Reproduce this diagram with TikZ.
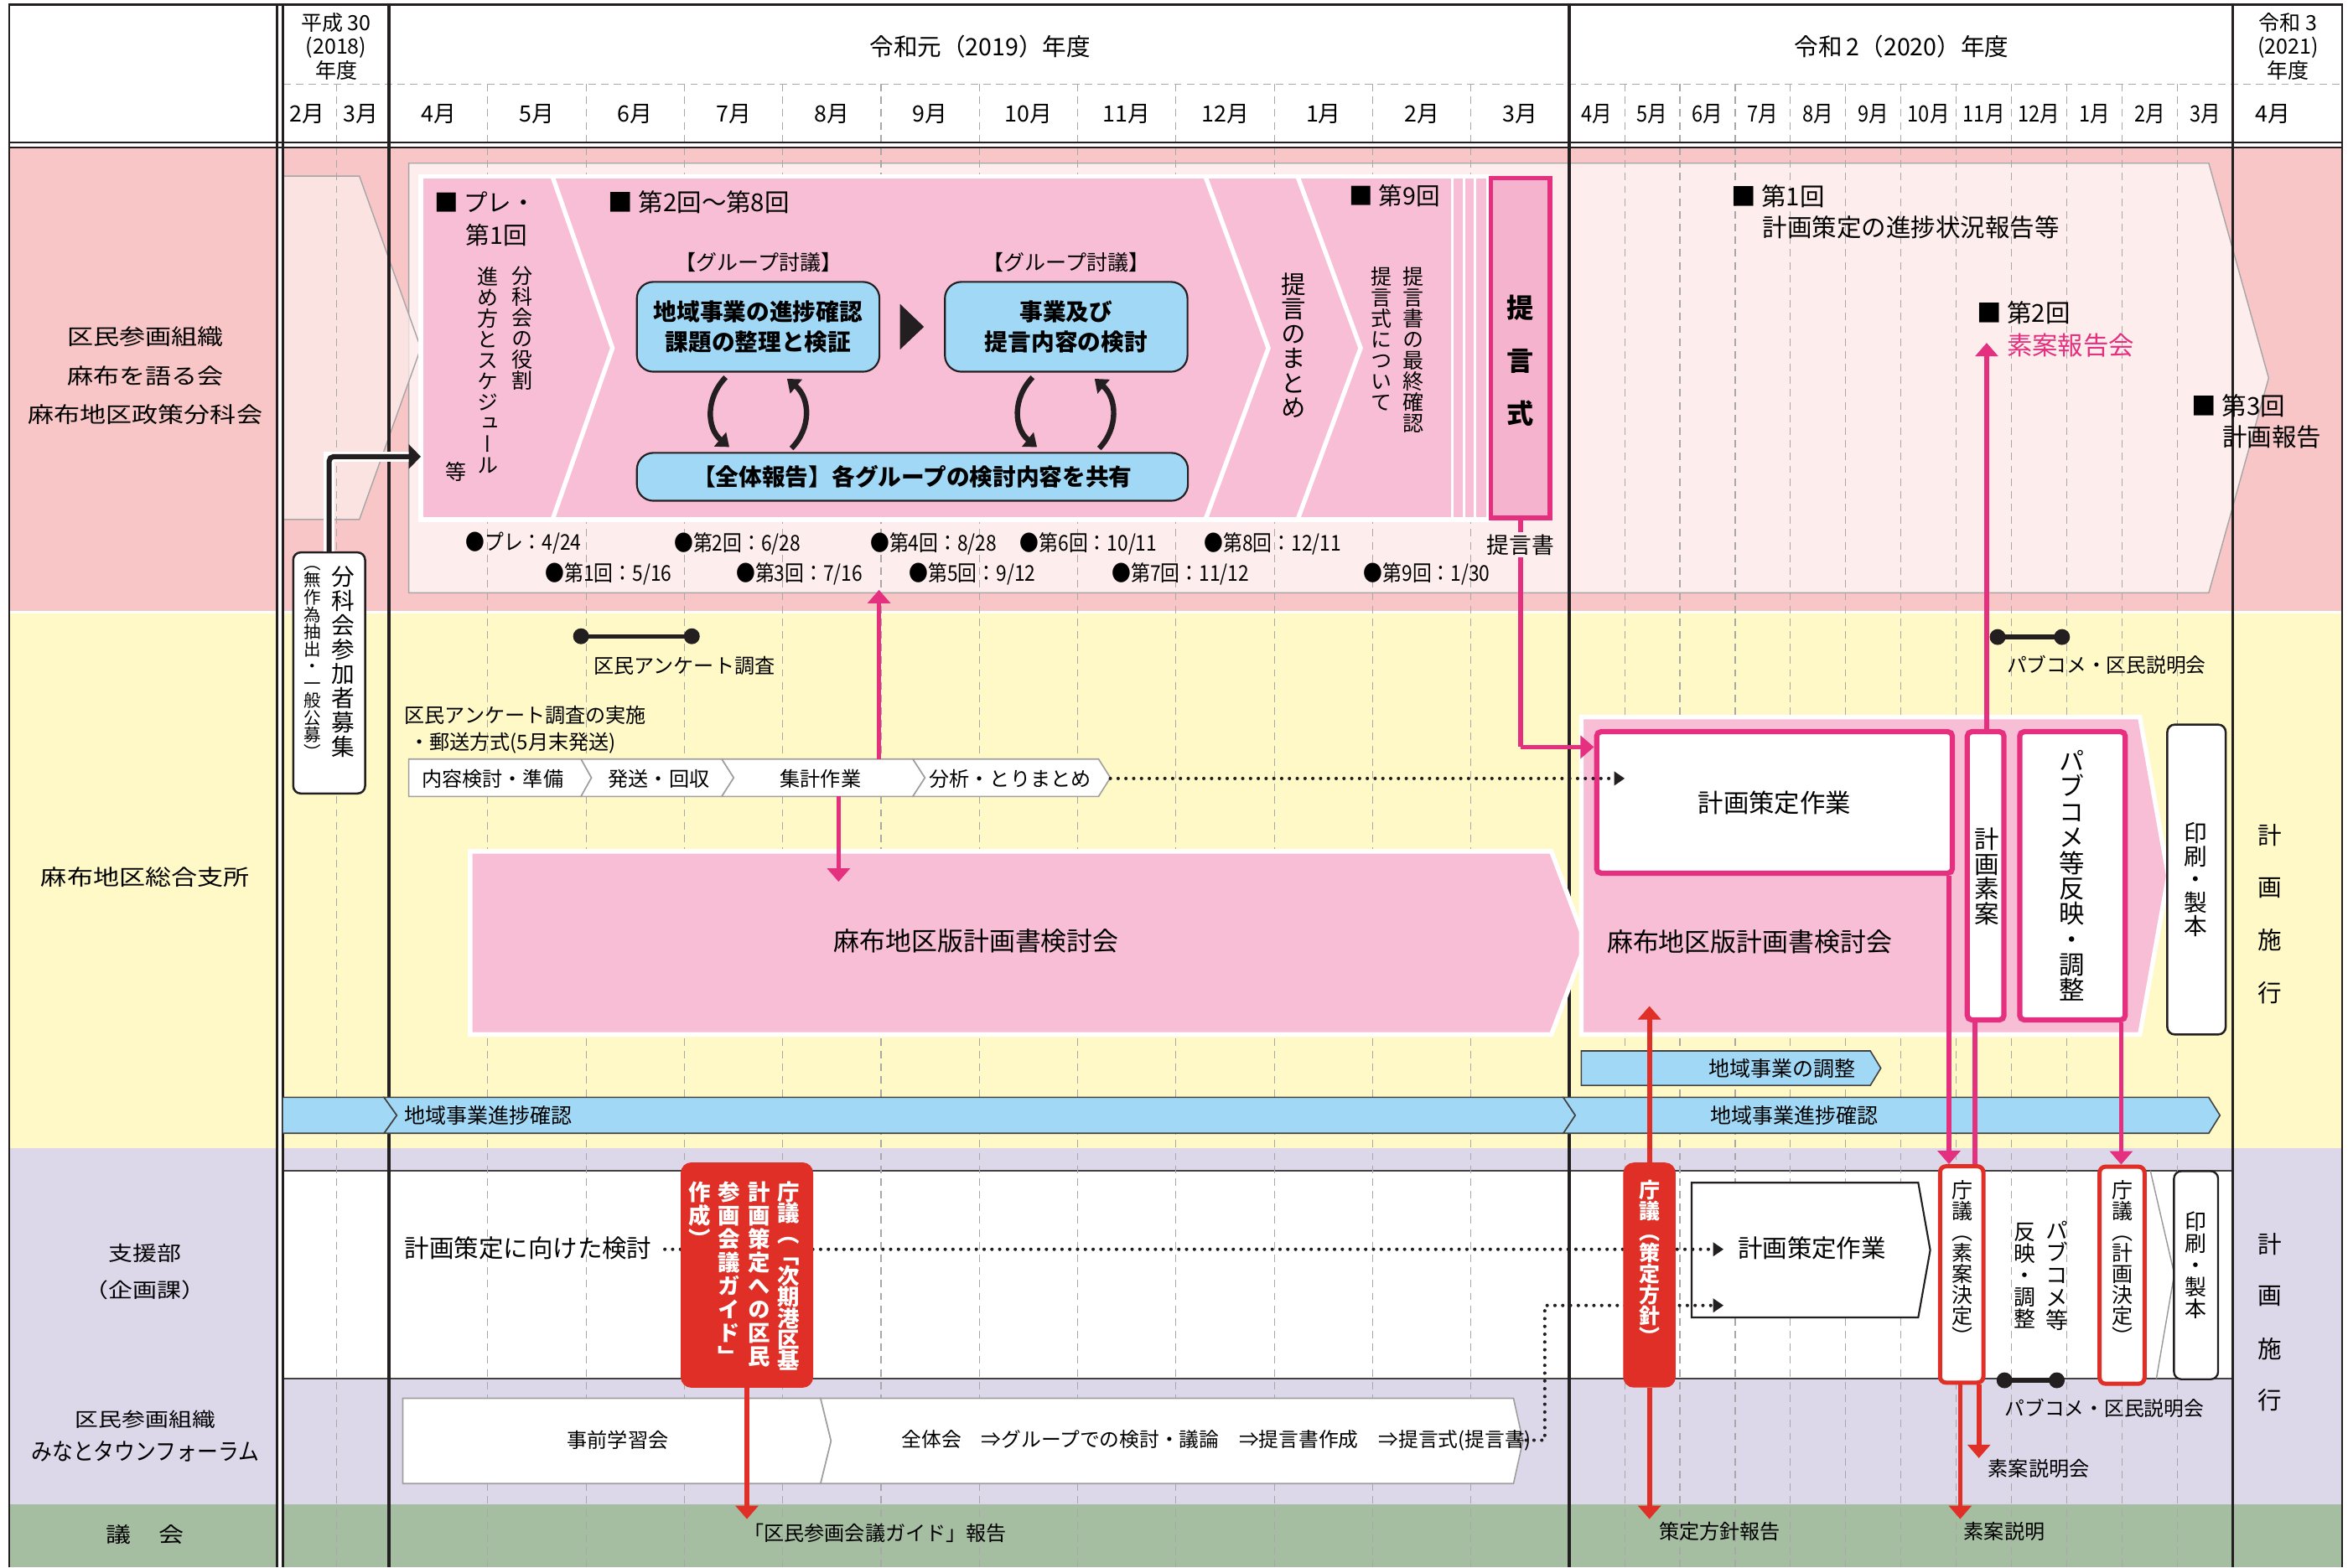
\documentclass[tikz,border=0pt]{standalone}
\usepackage{fontspec}
\setmainfont{Noto Sans CJK JP}
\newfontfamily\vjp[RawFeature=+vert]{Noto Sans CJK JP}
\newfontfamily\widejp[FakeStretch=1.2]{Noto Sans CJK JP}
\newfontfamily\condjp[FakeStretch=0.88]{Noto Sans CJK JP}
\usetikzlibrary{arrows.meta}
\definecolor{rowpink}{HTML}{F9C6C7}
\definecolor{lightpink}{HTML}{FDEDEC}
\definecolor{segpink}{HTML}{F8BED6}
\definecolor{mag}{HTML}{E4307F}
\definecolor{skyb}{HTML}{A0D8F5}
\definecolor{rowyel}{HTML}{FFF9C7}
\definecolor{rowlav}{HTML}{DCD8EA}
\definecolor{rowgrn}{HTML}{A5BEA2}
\definecolor{redc}{HTML}{E02F26}
\definecolor{shikipink}{HTML}{F5B3CD}
\definecolor{ink}{HTML}{231F20}
\definecolor{gridc}{HTML}{A8A8A8}
\newcommand\fs[1]{\fontsize{#1}{\dimexpr #1pt*5/4\relax}\selectfont}
\newcommand\vt[2][1]{\vbox{\baselineskip=#1em\lineskiplimit=-\maxdimen\lineskip=0pt\relax\vtloop#2\relax}}
\def\vtloop#1{\ifx\relax#1\else\hbox to 1em{\hss#1\hss}\expandafter\vtloop\fi}
\begin{document}
\begin{tikzpicture}[x=1pt,y=-1pt,
  gridl/.style={gridc,line width=0.6,dash pattern=on 5pt off 3.5pt},
  frame/.style={ink,line width=1.3},
  yearl/.style={ink,line width=2.2},
  T/.style={inner sep=0pt,font=\fs{#1}},
  TB/.style={inner sep=0pt,font=\bfseries\fs{#1}},
  V/.style={inner sep=0pt,font=\vjp\fs{#1}},
  VB/.style={inner sep=0pt,font=\vjp\bfseries\fs{#1}},
  C/.style={inner sep=0pt,font=\condjp\fs{#1}},
  bluebox/.style={draw=ink,line width=1.2,fill=skyb,rounded corners=11,inner sep=0pt},
  magbox/.style={draw=mag,line width=3.5,fill=white,rounded corners=3,inner sep=0pt},
  redbox/.style={fill=redc,rounded corners=7,inner sep=0pt},
  redframe/.style={draw=redc,line width=2.8,fill=white,rounded corners=4,inner sep=0pt},
  wbox/.style={draw=ink,line width=1.4,fill=white,rounded corners=5,inner sep=0pt},
  chev/.style={draw=gray!75,line width=0.9,fill=white},
  bluechev/.style={draw=ink!85,line width=0.9,fill=skyb},
  magarrow/.style={mag,line width=3.2,-{Triangle[length=9,width=15]}},
  magline/.style={mag,line width=3.2},
  redarrow/.style={redc,line width=3.2,-{Triangle[length=9,width=15]}},
  blkarrow/.style={ink,line width=3.6,-{Triangle[length=8,width=12]}},
  dotline/.style={ink,line width=2.3,line cap=round,dash pattern=on 0pt off 5.2pt},
  dotarrow/.style={dotline,-{Triangle[length=7,width=9]}},
  dumb/.style={ink,line width=3}]
\useasboundingbox (0,0) rectangle (1568,1047);
\fill[white] (0,0) rectangle (1568,1047);
% row backgrounds
\fill[rowpink] (6,98.5) rectangle (1564,408);
\fill[rowyel] (6,409.5) rectangle (1564,767);
\fill[rowlav] (6,767) rectangle (1564,1005);
\fill[rowgrn] (6,1005) rectangle (1564,1047);
\fill[white] (189,782) rectangle (1491,921);
\draw[ink!85,line width=1.2] (189,782) -- (1491,782) (189,921) -- (1491,921);
% row 1 light pink arrows
\draw[gray!70,line width=0.8,fill=lightpink] (273,109) -- (1475,109) -- (1515,252.5) -- (1475,396) -- (273,396) -- cycle;
\draw[gray!70,line width=0.8,fill=lightpink,fill opacity=0.75] (189,117.6) -- (240,117.6) -- (281,232.5) -- (240,347) -- (189,347);
% grid
\foreach \i in {1,...,11} {
  \draw[gridl] ({260+65.667*\i},56) -- ({260+65.667*\i},1047);
  \draw[gridl] ({1048+36.917*\i},56) -- ({1048+36.917*\i},1047);
}
\draw[gridl] (224.5,56) -- (224.5,1047);
\draw[gridl] (189,56) -- (1564,56);
% frame
\fill[white] (185,3) rectangle (189,1047);
\fill[white] (6,95) rectangle (1564,98.5);
\draw[frame] (6,1047) -- (6,3) -- (1564,3) -- (1564,1047);
\draw[frame] (6,95) -- (1564,95) (6,98.5) -- (1564,98.5);
\draw[frame] (185,3) -- (185,1047) (189,3) -- (189,1047);
\draw[yearl] (260,3) -- (260,1047) (1048,3) -- (1048,1047) (1491,3) -- (1491,1047);
% header texts
\node[inner sep=0pt,align=center,font=\fontsize{14}{16}\selectfont] (h2018) at (224.5,31) {平成 30\\(2018)\\年度};
\node[T=16] (h2019) at (654.5,31) {令和元（2019）年度};
\node[T=16] (h2020) at (1270,31) {令和\,2（2020）年度};
\node[inner sep=0pt,align=center,font=\fontsize{14}{16}\selectfont] (h2021) at (1528,31) {令和 3\\(2021)\\年度};
\node[T=15] (m182) at (205,76) {2月};
\node[T=15] (m183) at (241,76) {3月};
\foreach \m [count=\i from 0] in {4,5,6,7,8,9,10,11,12,1,2,3} {
  \node[T=15] (ma\i) at ({260+65.667*(\i+0.5)},76) {\m 月};
  \node[C=15] (mb\i) at ({1048+36.917*(\i+0.5)},76) {\m 月};
}
\node[T=15] (m214) at (1518,76) {4月};
% left labels
\node[inner sep=0pt,align=center,font=\widejp\fontsize{14.5}{26.2}\selectfont] (lab1) at (97,251) {区民参画組織\\麻布を語る会\\麻布地区政策分科会};
\node[inner sep=0pt,font=\widejp\fs{14.5}] (lab2) at (97,586) {麻布地区総合支所};
\node[inner sep=0pt,align=center,font=\widejp\fontsize{13.5}{25}\selectfont] (lab3) at (97,849.5) {支援部\\（企画課）};
\node[inner sep=0pt,font=\widejp\fs{13}] (lab4a) at (97,948) {区民参画組織};
\node[inner sep=0pt,font=\condjp\fs{15.8}] (lab4b) at (97,969.6) {みなとタウンフォーラム};
\node[inner sep=0pt,font=\widejp\fs{14}] (lab5a) at (79.3,1025) {議};
\node[inner sep=0pt,font=\widejp\fs{14}] (lab5b) at (114.7,1025) {会};
% ===== row 1 =====
\fill[segpink] (281,118) rectangle (994,347);
\draw[white,line width=3] (281,118) rectangle (994,347);
\draw[white,line width=3] (369,118) -- (409,232.5) -- (369,347);
\draw[white,line width=3] (805,118) -- (847,232.5) -- (805,347);
\draw[white,line width=3] (866.6,118) -- (908.6,232.5) -- (866.6,347);
\draw[white,line width=1.8] (970,118) -- (970,347) (977.5,118) -- (977.5,347) (985,118) -- (985,347);
\node[draw=mag,line width=3,fill=shikipink,minimum width=39.7,minimum height=227,inner sep=0pt] (shiki) at (1015.3,232.5) {};
\node[TB=18] (shiki1) at (1015.3,205.7) {提};
\node[TB=18] (shiki2) at (1015.3,241) {言};
\node[TB=18] (shiki3) at (1015.3,276) {式};
\node[T=16,anchor=west] (pre) at (290,135) {■ プレ・};
\node[T=16,anchor=west] (pre2) at (311,157) {第1回};
\node[V=14,anchor=north] (pre3) at (348.5,178) {\vt{分科会の役割}};
\node[V=14,anchor=north] (pre4) at (326,178) {\vt{進め方とスケジュール}};
\node[T=14] (pre5) at (304.5,315) {等};
\node[T=16.5,anchor=west] (s28) at (406,135) {■ 第2回〜第8回};
\node[T=14] (gt1) at (506.5,175.5) {【グループ討議】};
\node[T=14] (gt2) at (712,175.5) {【グループ討議】};
\node[bluebox,minimum width=162,minimum height=60,align=center,font=\bfseries\fontsize{15.5}{20.5}\selectfont] (gb1) at (506.3,218.3) {地域事業の進捗確認\\課題の整理と検証};
\node[bluebox,minimum width=162,minimum height=60,align=center,font=\bfseries\fontsize{15.5}{20.5}\selectfont] (gb2) at (712,218.3) {事業及び\\提言内容の検討};
\node[bluebox,minimum width=368,minimum height=32,font=\bfseries\fs{15.5}] (gb3) at (609.3,318.5) {【全体報告】各グループの検討内容を共有};
\fill[ink] (601,203) -- (617,218.3) -- (601,233.5) -- cycle;
\draw[blkarrow] (484.6,252) .. controls (471,266) and (472,286) .. (487,298.6);
\draw[blkarrow] (528.5,299.5) .. controls (542,286) and (541,266) .. (525.6,253);
\draw[blkarrow] (689.6,252) .. controls (676,266) and (677,286) .. (692.5,298.6);
\draw[blkarrow] (734,299.5) .. controls (747,286) and (746,266) .. (731,253);
\node[V=16.5,anchor=north] (matome) at (864,182) {\vt{提言のまとめ}};
\node[T=16,anchor=west] (s9) at (901,131) {■ 第9回};
\node[V=14,anchor=north] (s9a) at (944,178) {\vt{提言書の最終確認}};
\node[V=14,anchor=north] (s9b) at (922.5,178) {\vt{提言式について}};
\node[C=14.5,anchor=west] (d0) at (310.8,363) {●プレ：4/24};
\node[C=14.5,anchor=west] (d1) at (364,383.5) {●第1回：5/16};
\node[C=14.5,anchor=west] (d2) at (450,363) {●第2回：6/28};
\node[C=14.5,anchor=west] (d3) at (491.5,383.5) {●第3回：7/16};
\node[C=14.5,anchor=west] (d4) at (581,363) {●第4回：8/28};
\node[C=14.5,anchor=west] (d5) at (607,383.5) {●第5回：9/12};
\node[C=14.5,anchor=west] (d6) at (681,363) {●第6回：10/11};
\node[C=14.5,anchor=west] (d7) at (742.5,383.5) {●第7回：11/12};
\node[C=14.5,anchor=west] (d8) at (804,363) {●第8回：12/11};
\node[C=14.5,anchor=west] (d9) at (910.5,383.5) {●第9回：1/30};
\node[T=16.5,anchor=west] (r1) at (1156,131) {■ 第1回};
\node[T=16.5,anchor=west] (r1b) at (1177,152) {計画策定の進捗状況報告等};
\node[T=16.5,anchor=west] (r2) at (1320,209) {■ 第2回};
\node[T=17,anchor=west,text=mag] (r2b) at (1340,230.5) {素案報告会};
\node[T=16.5,anchor=west] (r3) at (1463.6,271) {■ 第3回};
\node[T=16.5,anchor=west] (r3b) at (1484,292) {計画報告};
% ===== row 2 =====
\node[wbox,minimum width=48,minimum height=161] (boshu) at (219.8,449.5) {};
\node[V=15.5,anchor=north] (boshu1) at (229,378) {\vt[1.05]{分科会参加者募集}};
\node[V=11.5,anchor=north] (boshu2) at (208.6,378) {\vt{（無作為抽出・一般公募）}};
\coordinate (seg1w) at (281,305);
\draw[white,line width=7] (boshu.north) |- (276,305);
\draw[ink,line width=3.4,rounded corners=3,-{Triangle[length=8,width=16]}] (boshu.north) |- (seg1w);
\draw[dumb] (388,425) -- (462,425);
\fill[ink] (388,425) circle (5.3) (462,425) circle (5.3);
\node[T=13.5] (ank) at (457,444.5) {区民アンケート調査};
\node[T=13.5,anchor=west] (ank2) at (270,478) {区民アンケート調査の実施};
\node[T=13.5,anchor=west] (ank3) at (273,496.5) {・郵送方式(5月末発送)};
\draw[chev] (273,507) -- (388,507) -- (395,519.5) -- (388,532) -- (273,532) -- cycle;
\draw[chev] (388,507) -- (482,507) -- (490,519.5) -- (482,532) -- (388,532) -- (395,519.5) -- cycle;
\draw[chev] (482,507) -- (609.6,507) -- (617.7,519.5) -- (609.6,532) -- (482,532) -- (490,519.5) -- cycle;
\draw[chev] (609.6,507) -- (733.6,507) -- (741.5,519.5) -- (733.6,532) -- (609.6,532) -- (617.7,519.5) -- cycle;
\node[T=13.5] (p1) at (329,520) {内容検討・準備};
\node[T=13.5] (p2) at (440,520) {発送・回収};
\node[T=13.5] (p3) at (548,520) {集計作業};
\node[T=13.5] (p4) at (674.6,520) {分析・とりまとめ};
\draw[white,line width=3,fill=segpink] (314,568.7) -- (1036,568.7) -- (1059,630) -- (1036,691) -- (314,691) -- cycle;
\node[T=17.3] (kento1) at (652,628.6) {麻布地区版計画書検討会};
\draw[white,line width=3,fill=segpink] (1056,479) -- (1429,479) -- (1448,585) -- (1429,691) -- (1056,691) -- cycle;
\node[T=17.3,anchor=west] (kento2) at (1073,629) {麻布地区版計画書検討会};
\node[magbox,minimum width=237.6,minimum height=94.5,font=\fs{17}] (plan2) at (1185,536) {計画策定作業};
\node[magbox,minimum width=24.5,minimum height=192.5] (soan) at (1326,585) {};
\node[V=16.5] (soant) at (1326.6,585.5) {\vt{計画素案}};
\node[magbox,minimum width=70.5,minimum height=192.5] (pub) at (1384,585) {};
\node[V=17] (pubt) at (1383.6,585) {\vt{パブコメ等反映・調整}};
\node[wbox,minimum width=39,minimum height=207] (print2) at (1466.8,587.5) {};
\node[V=15.5] (print2t) at (1466.3,587.5) {\vt{印刷・製本}};
\node[T=16] (ks1) at (1516,558) {計};
\node[T=16] (ks2) at (1516,593) {画};
\node[T=16] (ks3) at (1516,628) {施};
\node[T=16] (ks4) at (1516,663) {行};
\draw[dumb] (1334,425.5) -- (1377,425.5);
\fill[ink] (1334,425.5) circle (5.3) (1377,425.5) circle (5.3);
\node[T=13.3,anchor=west] (pubc1) at (1340,444) {パブコメ・区民説明会};
\draw[bluechev] (1056,702) -- (1249,702) -- (1256,713.5) -- (1249,725) -- (1056,725) -- cycle;
\node[T=14] (chosei) at (1190,713.5) {地域事業の調整};
\draw[bluechev] (189,733) -- (256.5,733) -- (265,745) -- (256.5,757) -- (189,757);
\draw[bluechev] (256.5,733) -- (1044,733) -- (1052,745) -- (1044,757) -- (256.5,757) -- (265,745) -- cycle;
\draw[bluechev] (1044,733) -- (1475,733) -- (1482.5,745) -- (1475,757) -- (1044,757) -- (1052,745) -- cycle;
\node[T=14,anchor=west] (shin1) at (270,745) {地域事業進捗確認};
\node[T=14] (shin2) at (1198,745) {地域事業進捗確認};
% ===== row 3 =====
\draw[ink,line width=1.2,fill=white] (1129.7,790) -- (1281,790) -- (1289,835) -- (1281,880) -- (1129.7,880) -- cycle;
\node[T=16.5] (plan3) at (1210,833.5) {計画策定作業};
\draw[gray!80,line width=0.8] (1436,782) -- (1452,851) -- (1440,921);
\draw[chev] (269,934) -- (548,934) -- (555,962.5) -- (548,991) -- (269,991) -- cycle;
\draw[chev] (548,934) -- (1010.7,934) -- (1017,962.5) -- (1010.7,991) -- (548,991) -- (555,962.5) -- cycle;
\node[T=13.5] (jizen) at (412.6,962) {事前学習会};
\node[T=13.3,anchor=west] (zentai) at (602,962) {全体会\quad ⇒グループでの検討・議論\quad ⇒提言書作成\quad ⇒提言式(提言書)};
\node[T=16.5,anchor=west] (kento3) at (270,833.5) {計画策定に向けた検討};
\coordinate (dA) at (444,834.5);
\coordinate (dB) at (1151,834.5);
\draw[dotarrow] (dA) -- (dB);
\coordinate (dC) at (1014,962);
\coordinate (dD) at (1151,872);
\draw[dotarrow] (dC) -- (1031.6,962) -- (1031.6,872) -- (dD);
\node[redbox,minimum width=88.4,minimum height=150.5] (cg1) at (498.8,851.7) {};
\node[VB=14.8,text=white,anchor=north] (cg1a) at (526.8,789) {\vt[0.95]{庁議（「次期港区基}};
\node[VB=14.8,text=white,anchor=north] (cg1b) at (507,789) {\vt[1.06]{計画策定への区民}};
\node[VB=14.8,text=white,anchor=north] (cg1c) at (486.7,789) {\vt[1.06]{参画会議ガイド」}};
\node[VB=14.8,text=white,anchor=north] (cg1d) at (467,789) {\vt[1.06]{作成）}};
\node[redbox,minimum width=35,minimum height=150.3] (cg2) at (1101.5,851.7) {};
\node[VB=14,text=white,anchor=north] (cg2t) at (1101.5,788) {\vt{庁議（策定方針）}};
\node[redframe,minimum width=29,minimum height=144.5] (cg3) at (1310,851.3) {};
\node[V=14,anchor=north] (cg3t) at (1310.5,788) {\vt{庁議（素案決定）}};
\node[V=15] (pc1) at (1373.5,852) {\vt{パブコメ等}};
\node[V=14.5] (pc2) at (1352,852) {\vt{反映・調整}};
\node[redframe,minimum width=30,minimum height=145] (cg4) at (1417.1,851.8) {};
\node[V=14,anchor=north] (cg4t) at (1417.4,788) {\vt{庁議（計画決定）}};
\node[wbox,line width=1.3,minimum width=29.5,minimum height=139] (print3) at (1466.5,851.8) {};
\node[V=14.5] (print3t) at (1466.3,845) {\vt{印刷・製本}};
\node[T=16] (kt1) at (1516,831) {計};
\node[T=16] (kt2) at (1516,866) {画};
\node[T=16] (kt3) at (1516,901) {施};
\node[T=16] (kt4) at (1516,935.5) {行};
\draw[dumb] (1338.6,922) -- (1373.5,922);
\fill[ink] (1338.6,922) circle (5.3) (1373.5,922) circle (5.3);
\node[T=13.3,anchor=west] (pubc2) at (1338.6,940.6) {パブコメ・区民説明会};
% ===== row 4 labels =====
\node[T=13.5] (giA) at (584.5,1024) {「区民参画会議ガイド」報告};
\node[T=13.5] (giB) at (1148.5,1022.7) {策定方針報告};
\node[T=13.5] (giC) at (1338.5,1022.7) {素案説明};
\node[T=13.5] (smk) at (1361.5,981) {素案説明会};
% ===== connectors =====
\coordinate (a1) at (1015.3,499);
\draw[magline] (shiki.south) -- (a1);
\draw[magarrow] (a1) -- (plan2.west |- a1);
\node[T=15,fill=lightpink,inner sep=1.5pt] (teigensho) at (1015.3,364) {提言書};
\coordinate (p3top) at (587,507);
\coordinate (row1bot) at (587,394);
\draw[magarrow] (p3top) -- (row1bot);
\coordinate (p3bot) at (560,532);
\coordinate (kentoIn) at (560,589);
\draw[magarrow] (p3bot) -- (kentoIn);
\draw[dotarrow] (741.5,520) -- (1085,520);
\coordinate (soanrep) at (1326.7,229);
\draw[magarrow] (soan.north -| 1326.7,0) -- (soanrep);
\draw[magarrow] (plan2.south -| 1301.5,0) -- (cg3.north -| 1301.5,0);
\draw[magline] (soan.south -| 1319,0) -- (cg3.north -| 1319,0);
\draw[magarrow] (pub.south -| 1416.5,0) -- (cg4.north -| 1416.5,0);
\coordinate (cg2up) at (1101.5,672);
\draw[redarrow] (cg2.north) -- (cg2up);
\draw[redarrow] (cg2.south) -- (1101.5,1014.7);
\draw[redarrow] (cg1.south) -- (498.8,1014.7);
\draw[redarrow] (cg3.south -| 1309,0) -- (1309,1014.7);
\draw[redarrow] (cg3.south -| 1321.5,0) -- (1321.5,974);
\end{tikzpicture}
\end{document}
